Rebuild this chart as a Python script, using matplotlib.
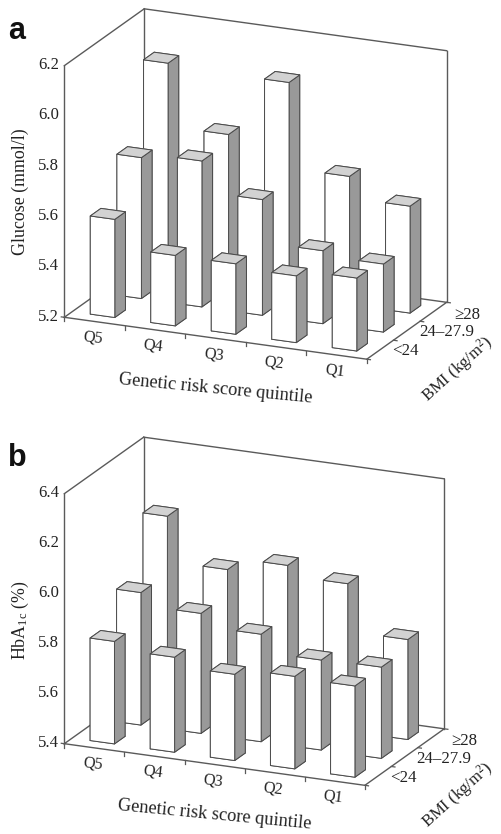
import matplotlib
matplotlib.use("Agg")
import matplotlib.pyplot as plt
from mpl_toolkits.mplot3d import proj3d

plt.rcParams['font.family'] = ['Liberation Serif', 'DejaVu Serif']
plt.rcParams['mathtext.fontset'] = 'custom'
plt.rcParams['mathtext.rm'] = 'Liberation Serif'
plt.rcParams['mathtext.it'] = 'Liberation Serif'
plt.rcParams['mathtext.default'] = 'rm'

quintiles = ['Q5', 'Q4', 'Q3', 'Q2', 'Q1']
bmi_groups = ['<24', '24–27.9', '≥28']

glucose_lt24 = [5.59, 5.48, 5.48, 5.465, 5.49]
glucose_24_28 = [5.76, 5.78, 5.66, 5.49, 5.47]
glucose_ge28 = [6.06, 5.81, 6.05, 5.71, 5.625]
glucose_ticks = [5.2, 5.4, 5.6, 5.8, 6.0, 6.2]

hba1c_lt24 = [5.81, 5.78, 5.745, 5.77, 5.765]
hba1c_24_28 = [5.93, 5.88, 5.83, 5.76, 5.765]
hba1c_ge28 = [6.16, 5.98, 6.03, 5.99, 5.80]
hba1c_ticks = [5.4, 5.6, 5.8, 6.0, 6.2, 6.4]

W, H = 501, 834
FRONT, SIDE, TOP, EDGE, FRAME, TXT = 'white', '#999999', '#d2d2d2', '#4a4a4a', '#5a5a5a', '#222222'
ELEV, AZIM = 18.3, -66.2
ASPECT = (330.6, 198.0, 265.0)
BAR_W, BAR_D = 0.405, 0.40

fig = plt.figure(figsize=(W / 100, H / 100), dpi=100)
fig.patch.set_facecolor('white')


def to_px(ax, x, y, z):
    px, py, _ = proj3d.proj_transform(x, y, z, ax.get_proj())
    dx, dy = ax.transData.transform((px, py))
    return dx, H - dy


def panel(rows, ticks, origin_px, z_px, letter, letter_xy, ylabel, ylabel_xy, bmi_offsets, xlabel_z, bmi_xy):
    z0, z1 = ticks[0], ticks[-1]
    ax = fig.add_axes([0, 0.2, 1, W / H], projection='3d', computed_zorder=False)
    ax.set_proj_type('ortho')
    ax.view_init(elev=ELEV, azim=AZIM)
    ax.set_xlim(0, 5, view_margin=0)
    ax.set_ylim(0, 3, view_margin=0)
    ax.set_zlim(z0, z1, view_margin=0)
    ax.set_axis_off()
    ax.patch.set_alpha(0)
    ax.set_box_aspect(ASPECT, zoom=1)
    fig.canvas.draw()
    # scale and shift so that the box lands where it sits in the reference
    h_now = to_px(ax, 0, 0, z0)[1] - to_px(ax, 0, 0, z1)[1]
    ax.set_box_aspect(ASPECT, zoom=z_px / h_now)
    fig.canvas.draw()
    ox, oy = to_px(ax, 0, 0, z0)
    pos = ax.get_position()
    ax.set_position([pos.x0 + (origin_px[0] - ox) / W, pos.y0 - (origin_px[1] - oy) / H, pos.width, pos.height])
    fig.canvas.draw()

    def line(xs, ys, zs, z=0.5, lw=1.0):
        ax.plot(xs, ys, zs, color=FRAME, lw=lw, zorder=z, solid_capstyle='projecting')

    def label(x, y, z, s, **kw):
        px, py = to_px(ax, x, y, z)
        fig.text(px / W, 1 - py / H, s, color=TXT, **kw)

    # frame
    line([0, 5, 5, 0, 0], [0, 0, 3, 3, 0], [z0] * 5)
    line([0, 0], [0, 0], [z0, z1])
    line([0, 0], [3, 3], [z0, z1])
    line([5, 5], [3, 3], [z0, z1])
    line([0, 0], [0, 3], [z1, z1])
    line([0, 5], [3, 3], [z1, z1])
    # ticks
    for i in range(0, 6):
        line([i, i], [0, 0], [z0, z0 - 0.016], lw=0.9)
    for j in range(0, 4):
        line([5, 5.06], [j, j], [z0, z0], lw=0.9)
    line([-0.05, 0], [0, 0], [z0, z0], lw=0.9)

    # bars, far to near
    order = 1
    for j in range(2, -1, -1):
        for i, v in enumerate(rows[j]):
            ax.bar3d(i + 0.5 - BAR_W / 2, j + 0.5 - BAR_D / 2, z0, BAR_W, BAR_D, v - z0,
                     color=[TOP, TOP, FRONT, FRONT, SIDE, SIDE],
                     edgecolor=EDGE, linewidth=0.7, shade=False, zorder=order)
            order += 1

    for t in ticks:
        label(-0.09, 0, t, f'{t:.1f}', ha='right', va='center', fontsize=12)
    for i, q in enumerate(quintiles):
        label(i + 0.47, 0, z0 - 0.065, q, ha='center', va='center', fontsize=11.7, rotation=-7)
    for j, b in enumerate(bmi_groups):
        label(5 + bmi_offsets[j], j + 0.5, z0, b, ha='left', va='center', fontsize=12.2)
    label(2.5, 0, xlabel_z, 'Genetic risk score quintile', ha='center', va='center',
          fontsize=13.2, rotation=-5.5)

    fig.text(bmi_xy[0] / W, 1 - bmi_xy[1] / H, 'BMI (kg/m$^2$)', ha='center', va='center',
             fontsize=12.0, rotation=42, color=TXT)
    fig.text(ylabel_xy[0] / W, 1 - ylabel_xy[1] / H, ylabel, ha='center', va='center',
             fontsize=12.9, rotation=90, color=TXT)
    fig.text(letter_xy[0] / W, 1 - letter_xy[1] / H, letter, ha='center', va='center', fontsize=22,
             fontweight='bold', family=['Liberation Sans'], color='#111111')


panel([glucose_lt24, glucose_24_28, glucose_ge28], glucose_ticks, (64.3, 317.3), 251.6,
      'a', (17, 31), 'Glucose (mmol/l)', (20, 192), (0.2, 0.2, 0.34), 5.2 - 0.2, (458, 369))
panel([hba1c_lt24, hba1c_24_28, hba1c_ge28], hba1c_ticks, (64.3, 743.7), 250.0,
      'b', (17, 458), 'HbA$_{1c}$ (%)', (20, 620), (0.2, 0.2, 0.34), 5.4 - 0.2, (458, 795))

fig.savefig('out.png', dpi=100)
